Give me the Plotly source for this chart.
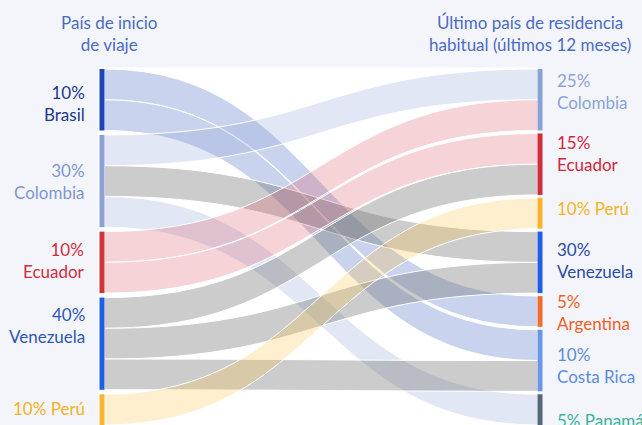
import plotly.graph_objects as go

# ---------------- data ----------------
src_names = ["Brasil", "Colombia", "Ecuador", "Venezuela", "Perú"]
src_pct = ["10%", "30%", "10%", "40%", "10%"]
dst_names = ["Colombia", "Ecuador", "Perú", "Venezuela", "Argentina", "Costa Rica", "Panamá"]
dst_pct = ["25%", "15%", "10%", "30%", "5%", "10%", "5%"]

link_source = ["Brasil", "Brasil", "Colombia", "Colombia", "Colombia", "Ecuador", "Ecuador",
               "Venezuela", "Venezuela", "Venezuela", "Perú"]
link_target = ["Argentina", "Costa Rica", "Colombia", "Venezuela", "Panamá", "Colombia", "Ecuador",
               "Ecuador", "Venezuela", "Costa Rica", "Perú"]
link_value = [1, 1, 1, 1, 1, 1, 1, 1, 1, 1, 1]

title_left = "País de inicio<br>de viaje"
title_right = "Último país de residencia<br>habitual (últimos 12 meses)"

# ---------------- styles ----------------
src_node_colors = ["#1e43b8", "#8da0d5", "#d0353f", "#1f5fe6", "#f6b634"]
dst_node_colors = ["#8ba2d6", "#d02e3c", "#f7b42a", "#1e5de6", "#f26a2e", "#6a98e4", "#56677a"]
src_text_colors = ["#1b3a8c", "#7f96d2", "#d02c3a", "#2d55b8", "#f5b023"]
dst_text_colors = ["#8aa2d9", "#d0263a", "#f4b31e", "#2a4ba8", "#f06025", "#5b8de0", "#3bb39a"]
src_single_line = [False, False, False, False, True]
dst_single_line = [False, False, True, False, False, False, True]
# vertical nudges of the labels (px, positive = up)
src_label_shift = [-4, 0, 2, 18, 1]
dst_label_shift = [8, 11, 5, 2, -1.5, -5, -11]

BLUE = "rgba(120,145,210,0.40)"
LAV = "rgba(140,160,215,0.25)"
PINK = "rgba(220,80,95,0.25)"
GRAY = "rgba(115,115,115,0.36)"
YEL = "rgba(250,190,60,0.25)"
link_colors = [BLUE, BLUE, LAV, GRAY, LAV, PINK, PINK, GRAY, GRAY, GRAY, YEL]

FONT = "Lato, 'Open Sans', sans-serif"
W, H = 642, 440
TOP = 68.5
DOM_H = 356.8
L_MARGIN, R_MARGIN = 101.5, 101.5
PAD = 3
THICK = 5

# ---------------- node layout (derived from values) ----------------
n_src = len(src_names)
n_dst = len(dst_names)
src_tot = [sum(v for s, v in zip(link_source, link_value) if s == n) for n in src_names]
dst_tot = [sum(v for t, v in zip(link_target, link_value) if t == n) for n in dst_names]
unit = (DOM_H - (n_dst - 1) * PAD) / sum(dst_tot)
pad_left = (DOM_H - unit * sum(src_tot)) / (n_src - 1)


def centers(totals, pad):
    out, y0 = [], 0.0
    for t in totals:
        hgt = t * unit
        out.append((y0 + hgt / 2) / DOM_H)
        y0 += hgt + pad
    return out


src_y = centers(src_tot, pad_left)
dst_y = centers(dst_tot, PAD)

labels = src_names + dst_names
node_x = [1e-6] * n_src + [1.0] * n_dst
node_y = src_y + dst_y
node_colors = src_node_colors + dst_node_colors

src_idx = [src_names.index(s) for s in link_source]
dst_idx = [n_src + dst_names.index(t) for t in link_target]

fig = go.Figure(go.Sankey(
    arrangement="fixed",
    domain=dict(x=[0, 1], y=[0, 1]),
    node=dict(label=labels, x=node_x, y=node_y, color=node_colors,
              pad=PAD, thickness=THICK, line=dict(width=0)),
    link=dict(source=src_idx, target=dst_idx, value=link_value,
              color=link_colors, line=dict(color="white", width=1)),
    textfont=dict(color="rgba(0,0,0,0)", size=1),
))

annotations = []
for name, pct, y, col, single, ys in zip(src_names, src_pct, src_y, src_text_colors,
                                         src_single_line, src_label_shift):
    txt = f"{pct} {name}" if single else f"{pct}<br>{name}"
    annotations.append(dict(x=0, y=1 - y, xref="paper", yref="paper", xanchor="right",
                            yanchor="middle", xshift=-15, yshift=ys, text=txt, showarrow=False,
                            align="right", font=dict(family=FONT, size=17, color=col)))
for name, pct, y, col, single, ys in zip(dst_names, dst_pct, dst_y, dst_text_colors,
                                         dst_single_line, dst_label_shift):
    txt = f"{pct} {name}" if single else f"{pct}<br>{name}"
    annotations.append(dict(x=1, y=1 - y, xref="paper", yref="paper", xanchor="left",
                            yanchor="middle", xshift=15, yshift=ys, text=txt, showarrow=False,
                            align="left", font=dict(family=FONT, size=17, color=col)))

plot_w = W - L_MARGIN - R_MARGIN
annotations.append(dict(x=(109 - L_MARGIN) / plot_w, y=1 + (TOP - 33) / DOM_H, xref="paper",
                        yref="paper", xanchor="center", yanchor="middle", text=title_left,
                        showarrow=False, align="center",
                        font=dict(family=FONT, size=17, color="#4a6bc4")))
annotations.append(dict(x=(530 - L_MARGIN) / plot_w, y=1 + (TOP - 33) / DOM_H, xref="paper",
                        yref="paper", xanchor="center", yanchor="middle", text=title_right,
                        showarrow=False, align="center",
                        font=dict(family=FONT, size=17, color="#4a6bc4")))

fig.update_layout(
    width=W, height=H,
    margin=dict(l=L_MARGIN, r=R_MARGIN, t=TOP, b=H - TOP - DOM_H, pad=0),
    paper_bgcolor="#f4f5fa",
    font=dict(family=FONT),
    annotations=annotations,
    shapes=[dict(type="rect", xref="paper", yref="paper", layer="below",
                 x0=(98 - L_MARGIN) / plot_w, x1=(538 - L_MARGIN) / plot_w,
                 y0=-0.2, y1=1 + (TOP - 67) / DOM_H,
                 fillcolor="white", line=dict(width=0))],
    showlegend=False,
)

fig.write_html("out.html",
               config={"displayModeBar": False},
               post_script="document.documentElement.style.overflow='hidden';"
                           "document.body.style.overflow='hidden';"
                           "document.body.style.margin='0';")
